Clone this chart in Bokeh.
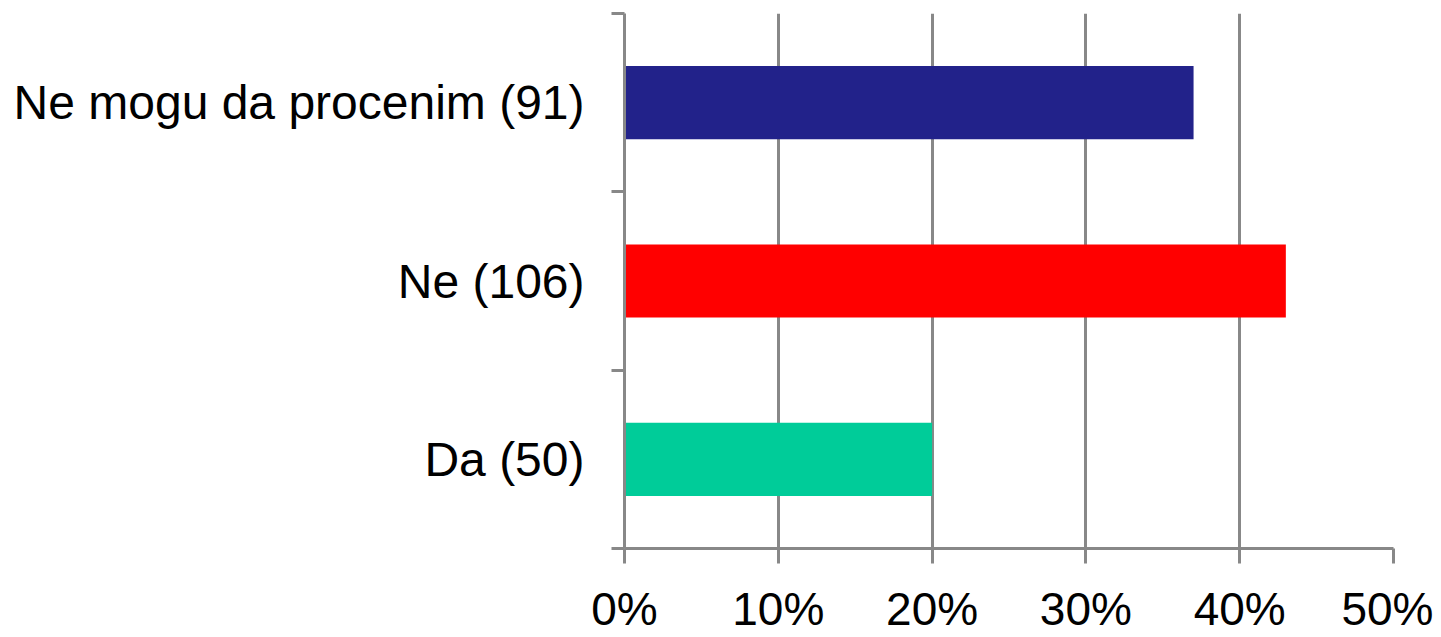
from bokeh.plotting import figure
from bokeh.models import FixedTicker, NumeralTickFormatter, ColumnDataSource, Range1d
from bokeh.embed import file_html
from bokeh.resources import INLINE

# Data (bottom to top)
categories = ["Da (50)", "Ne (106)", "Ne mogu da procenim (91)"]
shares = [0.20, 0.43, 0.37]
colors = ["#00CC99", "#FF0000", "#22228A"]
x_ticks = [0.0, 0.1, 0.2, 0.3, 0.4, 0.5]

positions = [i + 0.5 for i in range(len(categories))]
src = ColumnDataSource(dict(y=positions, right=shares, color=colors, cat=categories))

p = figure(width=1433, height=637, output_backend="svg", toolbar_location=None,
           x_range=Range1d(0, 0.5), y_range=Range1d(0, len(categories)),
           min_border_left=624, min_border_right=40, min_border_top=13, min_border_bottom=10)

p.hbar(y="y", left=0, right="right", height=0.41, color="color", source=src, line_color=None)

grey = "#888888"
p.background_fill_color = "white"
p.border_fill_color = "white"
p.outline_line_color = None

p.ygrid.grid_line_color = None
p.xgrid.ticker = FixedTicker(ticks=x_ticks)
p.xgrid.grid_line_color = grey
p.xgrid.grid_line_width = 3

xa = p.xaxis[0]
xa.ticker = FixedTicker(ticks=x_ticks)
xa.formatter = NumeralTickFormatter(format="0%")
xa.axis_line_color = grey
xa.axis_line_width = 3
xa.major_tick_line_color = grey
xa.major_tick_line_width = 3
xa.major_tick_in = 0
xa.major_tick_out = 15
xa.minor_tick_line_color = None
xa.major_label_standoff = 19
xa.major_label_text_font = "Liberation Sans"
xa.major_label_text_font_size = "46px"
xa.major_label_text_color = "black"

ya = p.yaxis[0]
ya.ticker = FixedTicker(ticks=positions, minor_ticks=[float(i) for i in range(len(categories) + 1)])
ya.major_label_overrides = {pos: c for pos, c in zip(positions, categories)}
ya.axis_line_color = grey
ya.axis_line_width = 3
ya.major_tick_line_color = None
ya.major_tick_in = 0
ya.major_tick_out = 0
ya.minor_tick_line_color = grey
ya.minor_tick_line_width = 3
ya.minor_tick_in = 0
ya.minor_tick_out = 13
ya.major_label_standoff = 27
ya.major_label_text_font = "Liberation Sans"
ya.major_label_text_font_size = "48px"
ya.major_label_text_color = "black"

open("out.html", "w").write(file_html(p, INLINE))
